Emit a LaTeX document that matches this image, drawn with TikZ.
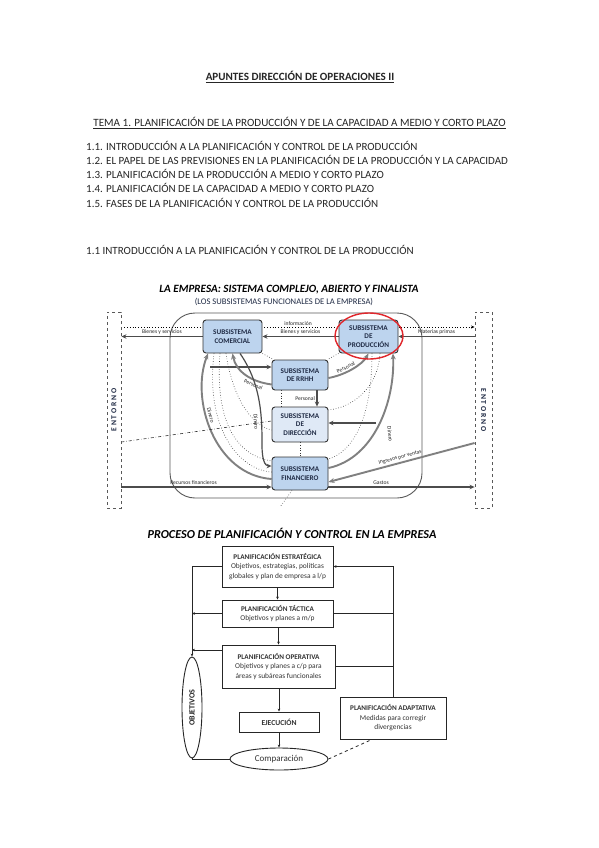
\documentclass[tikz,border=0pt]{standalone}
\usepackage{fontspec}
\setmainfont{Carlito}
\usetikzlibrary{arrows.meta,shapes.geometric,calc,backgrounds}
\definecolor{boxblue}{HTML}{BDD4EE}
\definecolor{boxpale}{HTML}{DFE9F6}
\definecolor{ringred}{HTML}{E0262B}
\definecolor{navy}{HTML}{1F2A44}
\newcommand{\fsz}[2]{\fontsize{#1}{#2}\selectfont}
\begin{document}
\begin{tikzpicture}[x=1pt,y=-1pt,
  txt/.style={inner sep=0pt, text=black!85},
  sub/.style={draw=black!80, line width=0.9pt, rounded corners=3pt, fill=boxblue, align=center, inner sep=0pt, font=\fsz{7.2}{8.6}\bfseries, text=navy},
  ent/.style={draw=black!65, dashed, line width=0.9pt, inner sep=0pt},
  lab/.style={inner sep=0.6pt, font=\fsz{5.6}{6}, text=black!85},
  arr/.style={-{Stealth[length=5pt,width=4.5pt]}, line width=1.2pt, draw=black!70},
  band/.style={-{Stealth[length=6pt,width=5pt]}, line width=1.9pt, draw=black!50},
  dot/.style={dotted, line width=0.6pt, draw=black!80},
  pbox/.style={draw=black!85, line width=0.9pt, align=center, inner sep=0pt, font=\fsz{7.4}{9.6}, text=black!80},
  flow/.style={-{Stealth[length=3pt,width=2.6pt]}, line width=0.55pt, draw=black!85},
]
\begin{pgfonlayer}{background}
\fill[white] (0,0) rectangle (599,848);
\end{pgfonlayer}
\useasboundingbox (0,0) rectangle (599,848);

% ---------- page text ----------
\node[txt, font=\fsz{11.1}{12}\bfseries] (t0) at (300,77) {\underline{APUNTES DIRECCIÓN DE OPERACIONES II}};
\node[txt, font=\fsz{11.1}{12}] (t1) at (299.5,123) {\underline{TEMA 1. PLANIFICACIÓN DE LA PRODUCCIÓN Y DE LA CAPACIDAD A MEDIO Y CORTO PLAZO}};
\node[txt, anchor=west, font=\fsz{11}{12}] (l1) at (86,146) {1.1. INTRODUCCIÓN A LA PLANIFICACIÓN Y CONTROL DE LA PRODUCCIÓN};
\node[txt, anchor=west, font=\fsz{11}{12}] (l2) at (86,160) {1.2. EL PAPEL DE LAS PREVISIONES EN LA PLANIFICACIÓN DE LA PRODUCCIÓN Y LA CAPACIDAD};
\node[txt, anchor=west, font=\fsz{11}{12}] (l3) at (86,174) {1.3. PLANIFICACIÓN DE LA PRODUCCIÓN A MEDIO Y CORTO PLAZO};
\node[txt, anchor=west, font=\fsz{11}{12}] (l4) at (86,188) {1.4. PLANIFICACIÓN DE LA CAPACIDAD A MEDIO Y CORTO PLAZO};
\node[txt, anchor=west, font=\fsz{11}{12}] (l5) at (86,203) {1.5. FASES DE LA PLANIFICACIÓN Y CONTROL DE LA PRODUCCIÓN};
\node[txt, anchor=west, font=\fsz{11}{12}] (s1) at (86,250) {1.1 INTRODUCCIÓN A LA PLANIFICACIÓN Y CONTROL DE LA PRODUCCIÓN};

% ---------- diagram 1 ----------
\node[txt, font=\fsz{11.1}{12}\bfseries\itshape, text=black] (d1t) at (289,290) {LA EMPRESA: SISTEMA COMPLEJO, ABIERTO Y FINALISTA};
\node[txt, font=\fsz{8.6}{9}, text=navy] (d1s) at (284,301.5) {(LOS SUBSISTEMAS FUNCIONALES DE LA EMPRESA)};

\node[ent, minimum width=14, minimum height=196] (entL) at (114,410) {};
\node[txt, rotate=90, font=\fsz{7.6}{8}\bfseries, text=navy] (entLt) at (114,410) {E N T O R N O};
\node[ent, minimum width=17, minimum height=196] (entR) at (483.5,410) {};
\node[txt, rotate=-90, font=\fsz{7.6}{8}\bfseries, text=navy] (entRt) at (483.5,410) {E N T O R N O};

\node[sub, minimum width=59, minimum height=33] (com) at (232.5,336.5) {SUBSISTEMA\\COMERCIAL};
\node[sub, minimum width=59, minimum height=33] (prod) at (368.5,336.5) {SUBSISTEMA\\DE\\PRODUCCIÓN};
\node[sub, minimum width=56, minimum height=30] (rrhh) at (300,375) {SUBSISTEMA\\DE RRHH};
\node[sub, fill=boxpale, minimum width=56, minimum height=35] (dir) at (300,424.5) {SUBSISTEMA\\DE\\DIRECCIÓN};
\node[sub, minimum width=56, minimum height=33] (fin) at (300,473.5) {SUBSISTEMA\\FINANCIERO};
\node[draw=ringred, line width=1.4pt, ellipse, minimum width=68, minimum height=46, inner sep=0pt] (ring) at (369,336) {};

\coordinate (pstart) at (210,367);
\coordinate (dbranch) at (376,423);
\coordinate (dotend) at (280,507);

\begin{pgfonlayer}{background}
\node[draw=black!65, line width=0.9pt, rounded corners=25pt, minimum width=252, minimum height=185, inner sep=0pt] (sys) at (296,405.5) {};
% information
\draw[dotted, line width=0.8pt, -{Stealth[length=3.5pt,width=3pt]}] (entL.east |- 0,327) -- (entR.west |- 0,327) node[lab, pos=0.5, above=0.5pt] {información};
% goods
\draw[arr] (prod.west) -- (com.east) node[lab, midway, above=1pt] {Bienes y servicios};
\draw[arr] (com.west) -- (com.west -| entL.east) node[lab, midway, above=1pt] {Bienes y servicios};
\draw[arr] (entR.west |- prod.east) -- (prod.east) node[lab, midway, above=1pt] {Materias primas};
% personal
\draw[arr] (pstart) -- (rrhh.west |- pstart);
\draw[band] ($(rrhh.south west)+(0,-6)$) .. controls (252,382) and (236,372) .. ($(com.south)+(0,0)$) node[lab, pos=0.3, sloped, below=1pt] {Personal};
\draw[band] ($(rrhh.east)+(0,3)$) .. controls (345,375) and (362,365) .. ($(prod.south)+(0,0)$) node[lab, pos=0.4, sloped, above=1pt] {Personal};
\draw[arr] (rrhh.south -| 317,0) -- (dir.north -| 317,0) node[lab, midway, left=1pt] {Personal};
% money
\draw[band] (fin.west |- 0,479) .. controls (215,475) and (190,400) .. (com.south -| 208,0) node[lab, pos=0.6, sloped, above=1pt] {Dinero};
\draw[arr] (com.south -| 240,0) .. controls (262,385) and (262,420) .. (262,445) .. controls (262,460) and (265,466) .. (fin.west |- 0,466);
\node[lab, rotate=-86] (dinc) at (256,422) {Dinero};
\draw[band] (fin.east |- 0,468) .. controls (375,458) and (395,400) .. (prod.south -| 393,0);
\node[lab, rotate=-84] (dinr) at (390,434) {Dinero};
\draw[arr] (dbranch) -- (dir.east |- dbranch);
% incomes / resources / expenses
\draw[band] (entR.west |- 0,443) -- (fin.east |- 0,482) node[lab, pos=0.5, sloped, above=1.5pt] {Ingresos por ventas};
\draw[arr] (entL.east |- 0,487) -- (fin.west |- 0,487) node[lab, pos=0.48, above=1pt] {Recursos financieros};
\draw[arr] (fin.east |- 0,487) -- (entR.west |- 0,487) node[lab, pos=0.36, above=1pt] {Gastos};
% dash-dot information
\draw[dash dot, line width=0.6pt, draw=black!80] (entL.east |- 0,442) -- (dir.west |- 0,421);
% dotted links
\draw[dot] (com.south -| 220,0) .. controls (215,420) and (235,455) .. (fin.west |- 0,461);
\draw[dot] (com.south -| 226,0) .. controls (232,395) and (250,425) .. (dir.west |- 0,430);
\draw[dot] (com.south -| 214,0) .. controls (205,430) and (240,470) .. (fin.west |- 0,472);
\draw[dot] (prod.south -| 372,0) .. controls (372,420) and (352,452) .. (fin.east |- 0,459);
\draw[dot] (prod.south -| 380,0) .. controls (378,390) and (350,408) .. (dir.east |- 0,410);
\draw[dot] (rrhh.south -| 281,0) -- (dir.north -| 281,0);
\draw[dot] (dir.south) -- (fin.north);
\draw[dot] (fin.south -| 292,0) -- (dotend);
\draw[dot] (com.south east) -- ($(rrhh.north west)+(2,0)$);
\draw[dot] (prod.south west) -- ($(rrhh.north east)+(-1,0)$);
\end{pgfonlayer}

% ---------- diagram 2 ----------
\node[txt, font=\fsz{12.2}{13}\bfseries\itshape, text=black] (d2t) at (292,533) {PROCESO DE PLANIFICACIÓN Y CONTROL EN LA EMPRESA};

\node[pbox, minimum width=111, minimum height=41] (est) at (277.5,566.5) {{\fsz{7.2}{9.6}\bfseries PLANIFICACIÓN ESTRATÉGICA}\\Objetivos, estrategias, políticas\\globales y plan de empresa a l/p};
\node[pbox, minimum width=111, minimum height=27] (tac) at (277.5,613.5) {{\fsz{7.2}{9.6}\bfseries PLANIFICACIÓN TÁCTICA}\\Objetivos y planes a m/p};
\node[pbox, minimum width=113, minimum height=43] (ope) at (278.5,666.5) {{\fsz{7.2}{9.6}\bfseries PLANIFICACIÓN OPERATIVA}\\Objetivos y planes a c/p para\\áreas y subáreas funcionales};
\node[pbox, minimum width=80, minimum height=20, font=\fsz{7.6}{8}\bfseries] (eje) at (279,722) {EJECUCIÓN};
\node[pbox, minimum width=106, minimum height=42] (ada) at (393,718) {{\fsz{7.2}{9.6}\bfseries PLANIFICACIÓN ADAPTATIVA}\\Medidas para corregir\\divergencias};
\node[draw=black!85, line width=0.9pt, ellipse, minimum width=98, minimum height=22, inner sep=0pt, font=\fsz{9}{10}, text=black!80] (comp) at (279,759) {Comparación};
\node[draw=black!85, line width=0.9pt, ellipse, minimum width=20, minimum height=101, inner sep=0pt] (obj) at (192,707.5) {};
\node[txt, rotate=90, font=\fsz{8}{9}\bfseries] (objt) at (obj.center) {OBJETIVOS};

\draw[flow] (est.south) -- (tac.north);
\draw[flow] (tac.south) -- (ope.north |- tac.south) -- (ope.north);
\draw[flow] (ope.south -| eje.north) -- (eje.north);
\draw[flow] (eje.south) -- (comp.north);
% left feedback
\draw[flow] (est.west) -| (obj.north);
\draw[flow] (tac.west) -- (tac.west -| obj.north);
\draw[flow] (ope.west |- 0,650) -- (obj.north |- 0,650);
\draw[line width=0.55pt, draw=black!85] (comp.west) -| (obj.south);
% right feedback
\draw[flow] (ada.north) |- (est.east);
\draw[line width=0.55pt, draw=black!85] (tac.east) -- (tac.east -| ada.north);
\draw[line width=0.55pt, draw=black!85] (ope.east) -- (ope.east -| ada.north);
\draw[dashed, line width=0.8pt, draw=black!85] (comp.east) -- (ada.south -| 372,0);
\end{tikzpicture}
\end{document}
